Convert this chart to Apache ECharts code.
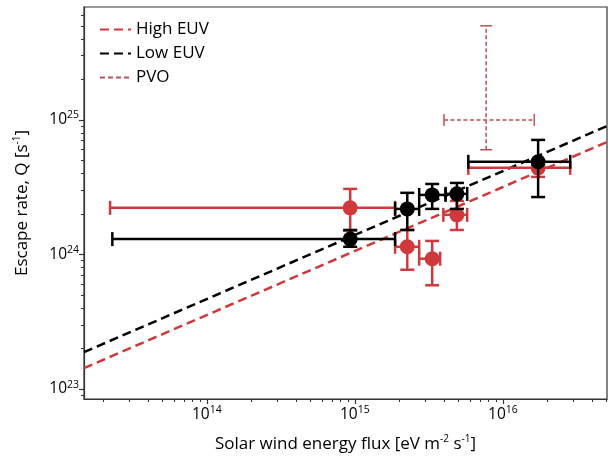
<!DOCTYPE html>
<html><head><meta charset="utf-8">
<script src="https://cdn.jsdelivr.net/npm/echarts@6/dist/echarts.min.js"></script>
<style>html,body{margin:0;padding:0;background:#fff}#c{width:608px;height:459px}</style>
</head><body><div id="c"></div>
<script>
// ---- data ----
const xRange = [1.48e13, 5.05e16];
const yRange = [8.43e22, 6.9e25];
const xMajorTicks = [1e14, 1e15, 1e16];
const yMajorTicks = [1e23, 1e24, 1e25];
const minorMantissas = [2, 3, 4, 5, 6, 7, 8, 9];

// High EUV (red)
const highX    = [9.3e14, 2.26e15, 3.33e15, 4.89e15, 1.73e16];
const highY    = [2.22e24, 1.14e24, 9.3e23, 1.97e24, 4.4e24];
const highXLo  = [2.22e13, 1.87e15, 2.72e15, 3.96e15, 5.84e15];
const highXHi  = [1.87e15, 2.72e15, 3.77e15, 5.74e15, 2.85e16];
const highYLo  = [1.5e24, 7.7e23, 5.9e23, 1.52e24, 3.77e24];
const highYHi  = [3.07e24, 1.52e24, 1.26e24, 2.5e24, 5.0e24];

// Low EUV (black)
const lowX   = [9.3e14, 2.26e15, 3.33e15, 4.89e15, 1.73e16];
const lowY   = [1.30e24, 2.18e24, 2.77e24, 2.82e24, 4.88e24];
const lowXLo = [2.3e13, 1.87e15, 2.72e15, 4.1e15, 5.84e15];
const lowXHi = [1.87e15, 2.72e15, 4.1e15, 5.74e15, 2.85e16];
const lowYLo = [1.14e24, 1.52e24, 2.18e24, 2.18e24, 2.67e24];
const lowYHi = [1.52e24, 2.87e24, 3.34e24, 3.4e24, 7.1e24];

// PVO
const pvoX = [7.71e15], pvoY = [1.0e25];
const pvoXLo = [4.0e15], pvoXHi = [1.63e16];
const pvoYLo = [6.0e24], pvoYHi = [5.0e25];

// Fit lines (endpoints at the axis edges)
const fitX = [1.48e13, 5.05e16];
const highFitY = [1.43e23, 6.85e24];
const lowFitY = [1.88e23, 9.0e24];

// ---- build ----
const RED = '#d0393b', BLACK = '#000000', PVO_C = '#b9505a';
const FONT = '"Open Sans", "Noto Sans", sans-serif';

function minorList(range) {
  const out = [];
  const lo = Math.floor(Math.log10(range[0])), hi = Math.ceil(Math.log10(range[1]));
  for (let e = lo; e <= hi; e++) for (const m of minorMantissas) {
    const v = m * Math.pow(10, e);
    if (v > range[0] && v < range[1]) out.push(v);
  }
  return out;
}
function rows(x, y, xl, xh, yl, yh) { return x.map((v, i) => [v, y[i], xl[i], xh[i], yl[i], yh[i]]); }

function errRender(color, lw, dash, cap, radius) {
  return function (params, api) {
    const x = api.value(0), y = api.value(1);
    const c = api.coord([x, y]);
    const xl = api.coord([api.value(2), y]), xh = api.coord([api.value(3), y]);
    const yl = api.coord([x, api.value(4)]), yh = api.coord([x, api.value(5)]);
    const st = { stroke: color, lineWidth: lw, lineDash: dash, fill: null };
    const solid = Object.assign({}, st, { lineDash: null });
    const ch = [
      { type: 'line', shape: { x1: xl[0], y1: c[1], x2: xh[0], y2: c[1] }, style: st },
      { type: 'line', shape: { x1: c[0], y1: yl[1], x2: c[0], y2: yh[1] }, style: st },
      { type: 'line', shape: { x1: xl[0], y1: c[1] - cap, x2: xl[0], y2: c[1] + cap }, style: solid },
      { type: 'line', shape: { x1: xh[0], y1: c[1] - cap, x2: xh[0], y2: c[1] + cap }, style: solid },
      { type: 'line', shape: { x1: c[0] - cap, y1: yl[1], x2: c[0] + cap, y2: yl[1] }, style: solid },
      { type: 'line', shape: { x1: c[0] - cap, y1: yh[1], x2: c[0] + cap, y2: yh[1] }, style: solid }
    ];
    if (radius > 0) ch.push({ type: 'circle', shape: { cx: c[0], cy: c[1], r: radius }, style: { fill: color } });
    return { type: 'group', children: ch };
  };
}

const expFmt = v => '{b|10}{s|' + Math.round(Math.log10(v)) + '}';
const tickRich = { b: { fontSize: 15.5, fontFamily: FONT, color: '#000' }, s: { fontSize: 10.5, fontFamily: FONT, color: '#000', padding: [0, 0, 9, 0] } };

function axisPair(dim, range, majors) {
  const isX = dim === 'x';
  return [{
    type: 'log', logBase: 10, min: range[0], max: range[1],
    position: isX ? 'bottom' : 'left',
    axisLine: { show: true, lineStyle: { color: '#333', width: 1.2 } },
    axisTick: { show: true, length: 5, customValues: majors, lineStyle: { color: '#333', width: 1.2 } },
    axisLabel: { customValues: majors, formatter: expFmt, rich: tickRich, margin: isX ? 6 : 5 },
    splitLine: { show: false }, minorTick: { show: false }
  }, {
    type: 'log', logBase: 10, min: range[0], max: range[1],
    position: isX ? 'bottom' : 'left',
    axisLine: { show: false },
    axisTick: { show: true, length: 3, customValues: minorList(range), lineStyle: { color: '#333', width: 1 } },
    axisLabel: { show: false }, splitLine: { show: false }
  }];
}

const xAxes = axisPair('x', xRange, xMajorTicks);
const yAxes = axisPair('y', yRange, yMajorTicks);
const nameRich = { t: { fontSize: 17, fontFamily: FONT, color: '#000' }, s: { fontSize: 10, fontFamily: FONT, color: '#000', padding: [0, 0, 10, 0] } };
xAxes[0].name = '{t|Solar wind energy flux [eV m}{s|-2}{t| s}{s|-1}{t|]}';
xAxes[0].nameLocation = 'middle';
xAxes[0].nameGap = 35;
xAxes[0].nameTextStyle = { rich: nameRich };
yAxes[0].name = '{t|Escape rate, Q [s}{s|-1}{t|]}';
yAxes[0].nameLocation = 'middle';
yAxes[0].nameGap = 52;
yAxes[0].nameTextStyle = { rich: nameRich };

const chart = echarts.init(document.getElementById('c'), null, { renderer: 'canvas' });
chart.setOption({
  animation: false,
  backgroundColor: '#fff',
  grid: { left: 84, right: 1, top: 7, bottom: 60, show: true, borderColor: '#333', borderWidth: 1.2, backgroundColor: 'transparent' },
  xAxis: xAxes,
  yAxis: yAxes,
  legend: {
    left: 94, top: 16, orient: 'vertical', itemGap: 7, itemWidth: 31, itemHeight: 14,
    itemStyle: { opacity: 0 },
    textStyle: { fontSize: 17, fontFamily: FONT, color: '#000' },
    data: ['High EUV', 'Low EUV', 'PVO']
  },
  series: [
    { name: 'High EUV', type: 'line', data: fitX.map((v, i) => [v, highFitY[i]]), symbol: 'none', z: 2,
      lineStyle: { color: RED, width: 2.5, type: [9, 5] }, itemStyle: { color: RED } },
    { name: 'Low EUV', type: 'line', data: fitX.map((v, i) => [v, lowFitY[i]]), symbol: 'none', z: 2,
      lineStyle: { color: BLACK, width: 2.5, type: [9, 5] }, itemStyle: { color: BLACK } },
    { name: 'PVO', type: 'line', data: [], symbol: 'none',
      lineStyle: { color: PVO_C, width: 2, type: [5, 3] }, itemStyle: { color: PVO_C } },
    { name: 'pvo-err', type: 'custom', z: 3, data: rows(pvoX, pvoY, pvoXLo, pvoXHi, pvoYLo, pvoYHi),
      encode: { x: 0, y: 1 }, renderItem: errRender(PVO_C, 1.5, [4, 2.5], 6, 0) },
    { name: 'high-err', type: 'custom', z: 4, data: rows(highX, highY, highXLo, highXHi, highYLo, highYHi),
      encode: { x: 0, y: 1 }, renderItem: errRender(RED, 2.5, null, 7, 7.5) },
    { name: 'low-err', type: 'custom', z: 5, data: rows(lowX, lowY, lowXLo, lowXHi, lowYLo, lowYHi),
      encode: { x: 0, y: 1 }, renderItem: errRender(BLACK, 2.5, null, 7, 7.5) }
  ]
});
</script>
</body></html>
